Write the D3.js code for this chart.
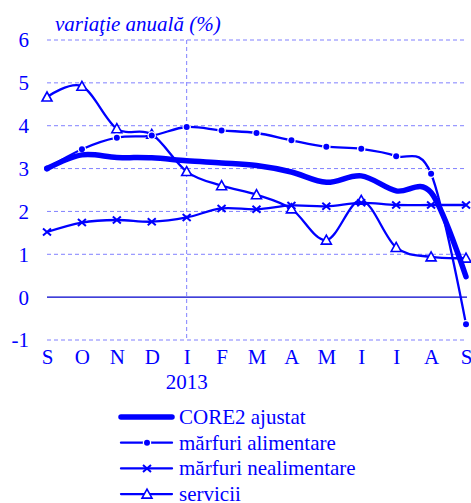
<!DOCTYPE html>
<html lang="ro">
<head>
    <meta charset="utf-8">
    <title>Inflatia CORE2 ajustat</title>
    <script src="https://cdn.jsdelivr.net/npm/d3@7"></script>
    <style>
        body { margin: 0; background: #fff; }
        svg { display: block; }
        text { font-family: "Liberation Serif", "Times New Roman", serif; fill: #0000ff; }
    </style>
</head>
<body>
<div id="chart"></div>
<script>
    // Date
    var luni = ['S', 'O', 'N', 'D', 'I', 'F', 'M', 'A', 'M', 'I', 'I', 'A', 'S'];
    var core2 = [3.0, 3.32, 3.26, 3.25, 3.18, 3.13, 3.07, 2.92, 2.68, 2.83, 2.48, 2.44, 0.48];
    var alimentare = [3.0, 3.45, 3.72, 3.77, 3.97, 3.89, 3.83, 3.66, 3.51, 3.46, 3.29, 2.88, -0.63];
    var nealimentare = [1.52, 1.74, 1.8, 1.76, 1.86, 2.07, 2.05, 2.14, 2.12, 2.2, 2.15, 2.15, 2.15];
    var servicii = [4.67, 4.92, 3.93, 3.8, 2.93, 2.6, 2.39, 2.06, 1.33, 2.26, 1.16, 0.94, 0.91];
    var yTicks = [-1, 0, 1, 2, 3, 4, 5, 6];

    var width = 471,
        height = 503,
        fontSize = 21,
        blue = '#0000ff',
        grid = '#8080ff';

    var svg = d3.select('#chart').append('svg')
        .attr('width', width)
        .attr('height', height);

    var x = d3.scalePoint()
        .domain(d3.range(luni.length))
        .range([47, 466]);

    var y = d3.scaleLinear()
        .domain([-1, 6])
        .range([340, 40]);

    // Grila orizontala
    svg.append('g').selectAll('line')
        .data(yTicks)
        .enter()
        .append('line')
        .attr('x1', x(0))
        .attr('x2', x(12) + 1)
        .attr('y1', function(d) { return y(d); })
        .attr('y2', function(d) { return y(d); })
        .attr('stroke', function(d) { return d === 0 ? '#0000cc' : grid; })
        .attr('stroke-width', function(d) { return d === 0 ? 1.3 : 1; })
        .attr('stroke-dasharray', function(d) { return d === 0 ? null : '4,3'; });

    // Linia verticala la ianuarie 2013
    svg.append('line')
        .attr('x1', x(4)).attr('x2', x(4))
        .attr('y1', y(6)).attr('y2', y(-1))
        .attr('stroke', grid)
        .attr('stroke-dasharray', '4,3');

    // Axa Y
    var yAxis = d3.axisLeft(y)
        .tickValues(yTicks)
        .tickFormat(function(d) { return String(d); })
        .tickSize(0)
        .tickPadding(0);
    svg.append('g')
        .attr('transform', 'translate(29,0)')
        .call(yAxis)
        .call(function(g) {
            g.select('.domain').remove();
            g.selectAll('text')
                .attr('font-size', fontSize)
                .attr('fill', blue)
                .attr('dy', '0.33em')
                .style('font-family', '"Liberation Serif", serif');
        });

    // Axa X
    var xAxis = d3.axisBottom(x).tickFormat(function(i) { return luni[i]; }).tickSize(0).tickPadding(0);
    svg.append('g')
        .call(xAxis)
        .call(function(g) {
            g.select('.domain').remove();
            g.selectAll('text')
                .attr('font-size', fontSize)
                .attr('fill', blue)
                .attr('y', 364)
                .attr('dy', 0)
                .style('font-family', '"Liberation Serif", serif');
        });

    svg.append('text')
        .attr('x', x(4))
        .attr('y', 389)
        .attr('text-anchor', 'middle')
        .attr('font-size', fontSize)
        .text('2013');

    svg.append('text')
        .attr('x', 55)
        .attr('y', 31)
        .attr('font-size', fontSize)
        .attr('font-style', 'italic')
        .text('variaţie anuală (%)');

    var line = d3.line()
        .x(function(d, i) { return x(i); })
        .y(function(d) { return y(d); })
        .curve(d3.curveCardinal.tension(0));

    var plot = svg.append('g');

    function drawSeries(data, w) {
        plot.append('path')
            .datum(data)
            .attr('d', line)
            .attr('fill', 'none')
            .attr('stroke', blue)
            .attr('stroke-width', w)
            .attr('stroke-linecap', 'round')
            .attr('stroke-linejoin', 'round');
    }

    function triangle(sel) {
        sel.append('path')
            .attr('d', 'M0,-5L5,4L-5,4Z')
            .attr('fill', '#fff')
            .attr('stroke', blue)
            .attr('stroke-width', 1.6);
    }

    function cross(sel) {
        sel.append('path')
            .attr('d', 'M-4,-3.5L4,3.5M-4,3.5L4,-3.5')
            .attr('stroke', blue)
            .attr('stroke-width', 2);
    }

    function dot(sel) {
        sel.append('circle')
            .attr('r', 3)
            .attr('fill', blue)
            .attr('stroke', '#fff')
            .attr('stroke-width', 2.5)
            .attr('paint-order', 'stroke');
    }

    function drawMarkers(data, marker) {
        plot.append('g').selectAll('g')
            .data(data)
            .enter()
            .append('g')
            .attr('transform', function(d, i) { return 'translate(' + x(i) + ',' + y(d) + ')'; })
            .call(marker);
    }

    drawSeries(servicii, 2.3);
    drawMarkers(servicii, triangle);
    drawSeries(nealimentare, 2.3);
    drawMarkers(nealimentare, cross);
    drawSeries(alimentare, 2.3);
    drawMarkers(alimentare, dot);
    drawSeries(core2, 5.5);

    // Legenda
    var legend = [
        { name: 'CORE2 ajustat', w: 5.5, marker: null },
        { name: 'mărfuri alimentare', w: 2.3, marker: dot },
        { name: 'mărfuri nealimentare', w: 2.3, marker: cross },
        { name: 'servicii', w: 2.3, marker: triangle }
    ];

    var item = svg.append('g').selectAll('g')
        .data(legend)
        .enter()
        .append('g')
        .attr('transform', function(d, i) { return 'translate(0,' + (417 + i * 25.7) + ')'; });

    item.append('line')
        .attr('x1', 121).attr('x2', 172)
        .attr('stroke', blue)
        .attr('stroke-width', function(d) { return d.w; })
        .attr('stroke-linecap', 'round');

    item.each(function(d) {
        if (d.marker) {
            d3.select(this).append('g')
                .attr('transform', 'translate(147,0)')
                .call(d.marker);
        }
    });

    item.append('text')
        .attr('x', 179)
        .attr('dy', '0.33em')
        .attr('font-size', fontSize)
        .text(function(d) { return d.name; });
</script>
</body>
</html>
